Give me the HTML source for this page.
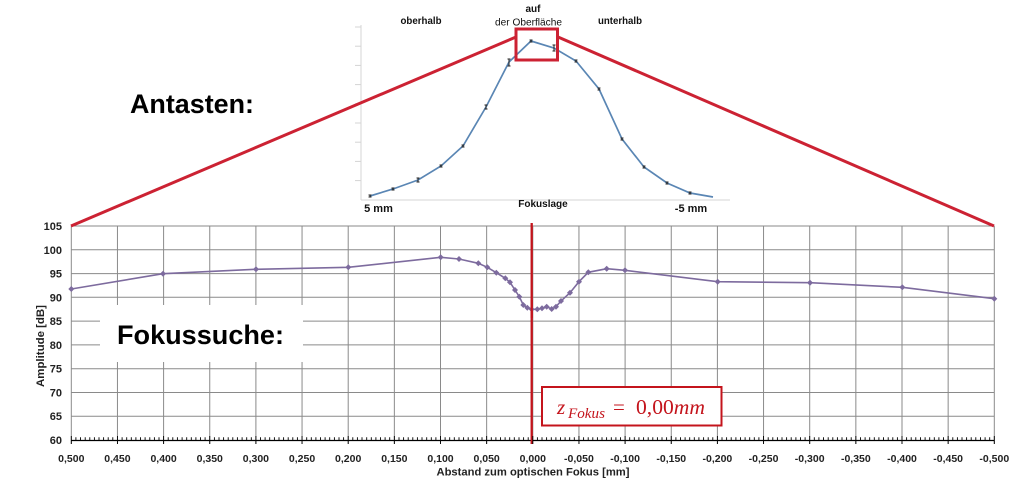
<!DOCTYPE html>
<html><head><meta charset="utf-8"><style>
html,body{margin:0;padding:0;background:#fff;}
svg{display:block;}
</style></head><body>
<svg width="1020" height="482" viewBox="0 0 1020 482" xmlns="http://www.w3.org/2000/svg">
<rect width="1020" height="482" fill="#fff"/>
<!-- main grid -->
<g stroke="#8a8a8a" stroke-width="1">
<line x1="71.3" y1="226" x2="994.3" y2="226"/>
<line x1="71.3" y1="249.8" x2="994.3" y2="249.8"/>
<line x1="71.3" y1="273.6" x2="994.3" y2="273.6"/>
<line x1="71.3" y1="297.3" x2="994.3" y2="297.3"/>
<line x1="71.3" y1="321.1" x2="994.3" y2="321.1"/>
<line x1="71.3" y1="344.9" x2="994.3" y2="344.9"/>
<line x1="71.3" y1="368.7" x2="994.3" y2="368.7"/>
<line x1="71.3" y1="392.5" x2="994.3" y2="392.5"/>
<line x1="71.3" y1="416.2" x2="994.3" y2="416.2"/>
<line x1="71.3" y1="226" x2="71.3" y2="444"/>
<line x1="117.45" y1="226" x2="117.45" y2="444"/>
<line x1="163.6" y1="226" x2="163.6" y2="444"/>
<line x1="209.75" y1="226" x2="209.75" y2="444"/>
<line x1="255.9" y1="226" x2="255.9" y2="444"/>
<line x1="302.05" y1="226" x2="302.05" y2="444"/>
<line x1="348.2" y1="226" x2="348.2" y2="444"/>
<line x1="394.35" y1="226" x2="394.35" y2="444"/>
<line x1="440.5" y1="226" x2="440.5" y2="444"/>
<line x1="486.65" y1="226" x2="486.65" y2="444"/>
<line x1="532.8" y1="226" x2="532.8" y2="444"/>
<line x1="578.95" y1="226" x2="578.95" y2="444"/>
<line x1="625.1" y1="226" x2="625.1" y2="444"/>
<line x1="671.25" y1="226" x2="671.25" y2="444"/>
<line x1="717.4" y1="226" x2="717.4" y2="444"/>
<line x1="763.55" y1="226" x2="763.55" y2="444"/>
<line x1="809.7" y1="226" x2="809.7" y2="444"/>
<line x1="855.85" y1="226" x2="855.85" y2="444"/>
<line x1="902" y1="226" x2="902" y2="444"/>
<line x1="948.15" y1="226" x2="948.15" y2="444"/>
<line x1="994.3" y1="226" x2="994.3" y2="444"/>
</g>
<!-- x axis -->
<line x1="71.3" y1="440.5" x2="994.3" y2="440.5" stroke="#000" stroke-width="1.3"/>
<!-- white box for Fokussuche -->
<rect x="100" y="305" width="203" height="57" fill="#fff"/>
<text x="117" y="344" font-family="Liberation Sans, Arial, sans-serif" font-weight="bold" font-size="27" fill="#000" textLength="167" lengthAdjust="spacingAndGlyphs">Fokussuche:</text>
<!-- y labels -->
<g font-family="Liberation Sans, Arial, sans-serif" font-weight="bold" font-size="11" fill="#222" text-anchor="end">
<text x="62" y="230">105</text>
<text x="62" y="253.8">100</text>
<text x="62" y="277.6">95</text>
<text x="62" y="301.3">90</text>
<text x="62" y="325.1">85</text>
<text x="62" y="348.9">80</text>
<text x="62" y="372.7">75</text>
<text x="62" y="396.5">70</text>
<text x="62" y="420.2">65</text>
<text x="62" y="444">60</text>
</g>
<text transform="translate(44,346) rotate(-90)" font-family="Liberation Sans, Arial, sans-serif" font-weight="bold" font-size="11" fill="#222" text-anchor="middle" textLength="82" lengthAdjust="spacingAndGlyphs">Amplitude [dB]</text>
<!-- x labels -->
<g font-family="Liberation Sans, Arial, sans-serif" font-weight="bold" font-size="10.5" fill="#222" text-anchor="middle">
<text x="71.3" y="462">0,500</text>
<text x="117.45" y="462">0,450</text>
<text x="163.6" y="462">0,400</text>
<text x="209.75" y="462">0,350</text>
<text x="255.9" y="462">0,300</text>
<text x="302.05" y="462">0,250</text>
<text x="348.2" y="462">0,200</text>
<text x="394.35" y="462">0,150</text>
<text x="440.5" y="462">0,100</text>
<text x="486.65" y="462">0,050</text>
<text x="532.8" y="462">0,000</text>
<text x="578.95" y="462">-0,050</text>
<text x="625.1" y="462">-0,100</text>
<text x="671.25" y="462">-0,150</text>
<text x="717.4" y="462">-0,200</text>
<text x="763.55" y="462">-0,250</text>
<text x="809.7" y="462">-0,300</text>
<text x="855.85" y="462">-0,350</text>
<text x="902" y="462">-0,400</text>
<text x="948.15" y="462">-0,450</text>
<text x="994.3" y="462">-0,500</text>
</g>
<text x="533" y="475.5" font-family="Liberation Sans, Arial, sans-serif" font-weight="bold" font-size="11" fill="#222" text-anchor="middle" textLength="193" lengthAdjust="spacingAndGlyphs">Abstand zum  optischen Fokus [mm]</text>
<!-- data series -->
<polyline fill="none" stroke="#7d6b9e" stroke-width="1.6" points="71.3,289 163,273.7 256,269.3 348.3,267.3 440.7,257.3 459,259 478.3,263.3 487.3,267.3 496.3,272.7 505.3,278.3 510,282.3 515,290 519.3,296.7 523.3,305 527.3,307.7 531.7,309.3 537.3,309.3 542,308.3 546.7,306.7 551.7,309 556,306.7 561,301 570,292.7 579,281.7 588.3,272.3 606.7,268.7 625,270.3 717.7,281.7 810,282.7 902.3,287.3 994.3,298.7"/>
<!-- red vertical -->
<line x1="531.7" y1="223" x2="531.7" y2="444" stroke="#c4141c" stroke-width="2.3"/>
<!-- z box -->
<rect x="542" y="387" width="179.5" height="38.5" fill="#fff" stroke="#c4141c" stroke-width="2"/>
<g font-family="Liberation Serif, 'DejaVu Serif', serif" fill="#c4141c">
<text x="557" y="414" font-size="21" font-style="italic">z</text>
<text x="568" y="418" font-size="15" font-style="italic" textLength="37" lengthAdjust="spacingAndGlyphs">Fokus</text>
<text x="613" y="414" font-size="21">=</text>
<text x="636" y="414" font-size="21" textLength="69" lengthAdjust="spacingAndGlyphs">0,00<tspan font-style="italic">mm</tspan></text>
</g>
<!-- inset chart -->
<g stroke="#d4d4d4" stroke-width="1">
<line x1="361" y1="25" x2="361" y2="200"/>
<line x1="361" y1="200" x2="730" y2="200"/>
<line x1="355" y1="27" x2="361" y2="27"/>
<line x1="355" y1="46.2" x2="361" y2="46.2"/>
<line x1="355" y1="65.4" x2="361" y2="65.4"/>
<line x1="355" y1="84.6" x2="361" y2="84.6"/>
<line x1="355" y1="103.8" x2="361" y2="103.8"/>
<line x1="355" y1="123" x2="361" y2="123"/>
<line x1="355" y1="142.2" x2="361" y2="142.2"/>
<line x1="355" y1="161.4" x2="361" y2="161.4"/>
<line x1="355" y1="180.6" x2="361" y2="180.6"/>
</g>
<polyline fill="none" stroke="#5a86b4" stroke-width="1.7" points="370,196 393,189 418,180 441,166 463,146 486,107 509,62 531,41 554,48 576,61 599,89 622,139 644,167 667,183 690,193 713,197"/>
<g stroke="#222" stroke-width="1" fill="none">
<path d="M370,195v2M368.5,195h3M368.5,197h3"/>
<path d="M393,188v2M391.5,188h3M391.5,190h3"/>
<path d="M418,178v4M416.5,178h3M416.5,182h3"/>
<path d="M441,165v2M439.5,165h3M439.5,167h3"/>
<path d="M463,145v2M461.5,145h3M461.5,147h3"/>
<path d="M486,105v4M484.5,105h3M484.5,109h3"/>
<path d="M509,59v7M507.5,59h3M507.5,66h3"/>
<path d="M531,40v2M529.5,40h3M529.5,42h3"/>
<path d="M554,45v6M552.5,45h3M552.5,51h3"/>
<path d="M576,60v2M574.5,60h3M574.5,62h3"/>
<path d="M599,88v2M597.5,88h3M597.5,90h3"/>
<path d="M622,138v2M620.5,138h3M620.5,140h3"/>
<path d="M644,166v2M642.5,166h3M642.5,168h3"/>
<path d="M667,182v2M665.5,182h3M665.5,184h3"/>
<path d="M690,192v2M688.5,192h3M688.5,194h3"/>
</g>
<g font-family="Liberation Sans, Arial, sans-serif" fill="#111" text-anchor="middle">
<text x="421" y="24" font-size="10" font-weight="bold" textLength="41" lengthAdjust="spacingAndGlyphs">oberhalb</text>
<text x="533" y="12" font-size="10" font-weight="bold">auf</text>
<text x="528.5" y="25.5" font-size="10" textLength="67" lengthAdjust="spacingAndGlyphs">der Oberfläche</text>
<text x="620" y="24" font-size="10" font-weight="bold" textLength="44" lengthAdjust="spacingAndGlyphs">unterhalb</text>
<text x="543" y="207" font-size="10" font-weight="bold">Fokuslage</text>
<text x="378.5" y="212" font-size="11" font-weight="bold">5 mm</text>
<text x="691" y="212" font-size="11" font-weight="bold">-5 mm</text>
</g>
<text x="130" y="113" font-family="Liberation Sans, Arial, sans-serif" font-weight="bold" font-size="27" fill="#000" textLength="124" lengthAdjust="spacingAndGlyphs">Antasten:</text>
<!-- red zoom lines -->
<g stroke="#cc2233" stroke-width="3" fill="none">
<line x1="71" y1="226" x2="516" y2="37"/>
<line x1="558" y1="37" x2="994" y2="226"/>
<rect x="516" y="29" width="41.5" height="31"/>
</g>
<!-- ticks -->
<g stroke="#000" stroke-width="0.9">
<path d="M71.3,436v8M117.45,436v8M163.6,436v8M209.75,436v8M255.9,436v8M302.05,436v8M348.2,436v8M394.35,436v8M440.5,436v8M486.65,436v8M532.8,436v8M578.95,436v8M625.1,436v8M671.25,436v8M717.4,436v8M763.55,436v8M809.7,436v8M855.85,436v8M902,436v8M948.15,436v8M994.3,436v8"/>
<path d="M75.9,437.3v3.2M80.5,437.3v3.2M85.2,437.3v3.2M89.8,437.3v3.2M94.4,437.3v3.2M99,437.3v3.2M103.6,437.3v3.2M108.2,437.3v3.2M112.8,437.3v3.2
M122.1,437.3v3.2M126.7,437.3v3.2M131.3,437.3v3.2M135.9,437.3v3.2M140.5,437.3v3.2M145.1,437.3v3.2M149.8,437.3v3.2M154.4,437.3v3.2M159,437.3v3.2
M168.2,437.3v3.2M172.8,437.3v3.2M177.4,437.3v3.2M182.1,437.3v3.2M186.7,437.3v3.2M191.3,437.3v3.2M195.9,437.3v3.2M200.5,437.3v3.2M205.1,437.3v3.2
M214.4,437.3v3.2M219,437.3v3.2M223.6,437.3v3.2M228.2,437.3v3.2M232.8,437.3v3.2M237.4,437.3v3.2M242.1,437.3v3.2M246.7,437.3v3.2M251.3,437.3v3.2
M260.5,437.3v3.2M265.1,437.3v3.2M269.7,437.3v3.2M274.4,437.3v3.2M279,437.3v3.2M283.6,437.3v3.2M288.2,437.3v3.2M292.8,437.3v3.2M297.4,437.3v3.2
M306.7,437.3v3.2M311.3,437.3v3.2M315.9,437.3v3.2M320.5,437.3v3.2M325.1,437.3v3.2M329.7,437.3v3.2M334.4,437.3v3.2M339,437.3v3.2M343.6,437.3v3.2
M352.8,437.3v3.2M357.4,437.3v3.2M362,437.3v3.2M366.7,437.3v3.2M371.3,437.3v3.2M375.9,437.3v3.2M380.5,437.3v3.2M385.1,437.3v3.2M389.7,437.3v3.2
M399,437.3v3.2M403.6,437.3v3.2M408.2,437.3v3.2M412.8,437.3v3.2M417.4,437.3v3.2M422,437.3v3.2M426.7,437.3v3.2M431.3,437.3v3.2M435.9,437.3v3.2
M445.1,437.3v3.2M449.7,437.3v3.2M454.3,437.3v3.2M459,437.3v3.2M463.6,437.3v3.2M468.2,437.3v3.2M472.8,437.3v3.2M477.4,437.3v3.2M482,437.3v3.2
M491.3,437.3v3.2M495.9,437.3v3.2M500.5,437.3v3.2M505.1,437.3v3.2M509.7,437.3v3.2M514.3,437.3v3.2M519,437.3v3.2M523.6,437.3v3.2M528.2,437.3v3.2
M537.4,437.3v3.2M542,437.3v3.2M546.6,437.3v3.2M551.3,437.3v3.2M555.9,437.3v3.2M560.5,437.3v3.2M565.1,437.3v3.2M569.7,437.3v3.2M574.3,437.3v3.2
M583.6,437.3v3.2M588.2,437.3v3.2M592.8,437.3v3.2M597.4,437.3v3.2M602,437.3v3.2M606.6,437.3v3.2M611.3,437.3v3.2M615.9,437.3v3.2M620.5,437.3v3.2
M629.7,437.3v3.2M634.3,437.3v3.2M638.9,437.3v3.2M643.6,437.3v3.2M648.2,437.3v3.2M652.8,437.3v3.2M657.4,437.3v3.2M662,437.3v3.2M666.6,437.3v3.2
M675.9,437.3v3.2M680.5,437.3v3.2M685.1,437.3v3.2M689.7,437.3v3.2M694.3,437.3v3.2M698.9,437.3v3.2M703.6,437.3v3.2M708.2,437.3v3.2M712.8,437.3v3.2
M722,437.3v3.2M726.6,437.3v3.2M731.2,437.3v3.2M735.9,437.3v3.2M740.5,437.3v3.2M745.1,437.3v3.2M749.7,437.3v3.2M754.3,437.3v3.2M758.9,437.3v3.2
M768.2,437.3v3.2M772.8,437.3v3.2M777.4,437.3v3.2M782,437.3v3.2M786.6,437.3v3.2M791.2,437.3v3.2M795.9,437.3v3.2M800.5,437.3v3.2M805.1,437.3v3.2
M814.3,437.3v3.2M818.9,437.3v3.2M823.5,437.3v3.2M828.2,437.3v3.2M832.8,437.3v3.2M837.4,437.3v3.2M842,437.3v3.2M846.6,437.3v3.2M851.2,437.3v3.2
M860.5,437.3v3.2M865.1,437.3v3.2M869.7,437.3v3.2M874.3,437.3v3.2M878.9,437.3v3.2M883.5,437.3v3.2M888.2,437.3v3.2M892.8,437.3v3.2M897.4,437.3v3.2
M906.6,437.3v3.2M911.2,437.3v3.2M915.8,437.3v3.2M920.5,437.3v3.2M925.1,437.3v3.2M929.7,437.3v3.2M934.3,437.3v3.2M938.9,437.3v3.2M943.5,437.3v3.2
M952.8,437.3v3.2M957.4,437.3v3.2M962,437.3v3.2M966.6,437.3v3.2M971.2,437.3v3.2M975.8,437.3v3.2M980.5,437.3v3.2M985.1,437.3v3.2M989.7,437.3v3.2"/>
</g>
<g fill="#7d6b9e">
<path d="M71.3,286 l3,3 -3,3 -3,-3z"/>
<path d="M163,270.7 l3,3 -3,3 -3,-3z"/>
<path d="M256,266.3 l3,3 -3,3 -3,-3z"/>
<path d="M348.3,264.3 l3,3 -3,3 -3,-3z"/>
<path d="M440.7,254.3 l3,3 -3,3 -3,-3z"/>
<path d="M459,256 l3,3 -3,3 -3,-3z"/>
<path d="M478.3,260.3 l3,3 -3,3 -3,-3z"/>
<path d="M487.3,264.3 l3,3 -3,3 -3,-3z"/>
<path d="M496.3,269.7 l3,3 -3,3 -3,-3z"/>
<path d="M505.3,275.3 l3,3 -3,3 -3,-3z"/>
<path d="M510,279.3 l3,3 -3,3 -3,-3z"/>
<path d="M515,287 l3,3 -3,3 -3,-3z"/>
<path d="M519.3,293.7 l3,3 -3,3 -3,-3z"/>
<path d="M523.3,302 l3,3 -3,3 -3,-3z"/>
<path d="M527.3,304.7 l3,3 -3,3 -3,-3z"/>
<path d="M531.7,306.3 l3,3 -3,3 -3,-3z"/>
<path d="M537.3,306.3 l3,3 -3,3 -3,-3z"/>
<path d="M542,305.3 l3,3 -3,3 -3,-3z"/>
<path d="M546.7,303.7 l3,3 -3,3 -3,-3z"/>
<path d="M551.7,306 l3,3 -3,3 -3,-3z"/>
<path d="M556,303.7 l3,3 -3,3 -3,-3z"/>
<path d="M561,298 l3,3 -3,3 -3,-3z"/>
<path d="M570,289.7 l3,3 -3,3 -3,-3z"/>
<path d="M579,278.7 l3,3 -3,3 -3,-3z"/>
<path d="M588.3,269.3 l3,3 -3,3 -3,-3z"/>
<path d="M606.7,265.7 l3,3 -3,3 -3,-3z"/>
<path d="M625,267.3 l3,3 -3,3 -3,-3z"/>
<path d="M717.7,278.7 l3,3 -3,3 -3,-3z"/>
<path d="M810,279.7 l3,3 -3,3 -3,-3z"/>
<path d="M902.3,284.3 l3,3 -3,3 -3,-3z"/>
<path d="M994.3,295.7 l3,3 -3,3 -3,-3z"/>
</g>
<line x1="531.7" y1="300" x2="531.7" y2="318" stroke="#c4141c" stroke-width="2.3"/>
</svg>
</body></html>
